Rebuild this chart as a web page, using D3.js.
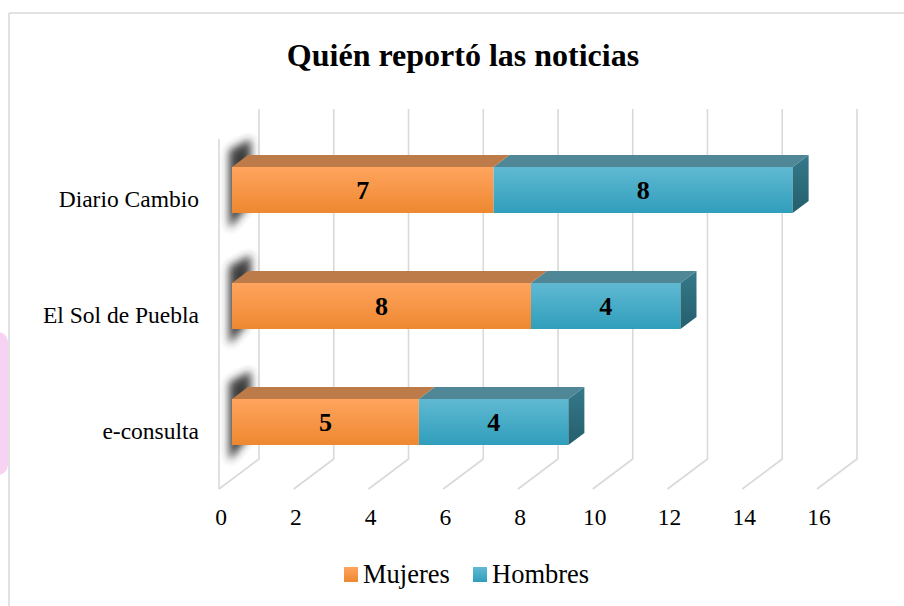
<!DOCTYPE html>
<html>
<head>
<meta charset="utf-8">
<script src="https://cdn.jsdelivr.net/npm/d3@7"></script>
<style>
  html, body { margin: 0; padding: 0; background: #fff; }
  svg { display: block; }
</style>
</head>
<body>
<svg id="chart" width="904" height="606"></svg>
<script>
// ---- data ----
const title = "Quién reportó las noticias";
const categories = ["Diario Cambio", "El Sol de Puebla", "e-consulta"];
const seriesNames = ["Mujeres", "Hombres"];
const mujeres = [7, 8, 5];
const hombres = [8, 4, 4];
const xTicks = [0, 2, 4, 6, 8, 10, 12, 14, 16];

// ---- setup ----
const svg = d3.select("#chart");
const W = 904, H = 606;
const font = "'Liberation Serif', 'Times New Roman', serif";

const defs = svg.append("defs");
function vGrad(id, c0, c1) {
  const g = defs.append("linearGradient").attr("id", id)
    .attr("x1", 0).attr("y1", 0).attr("x2", 0).attr("y2", 1);
  g.append("stop").attr("offset", "0%").attr("stop-color", c0);
  g.append("stop").attr("offset", "100%").attr("stop-color", c1);
}
vGrad("gOrange", "#FFA45E", "#EE8830");
vGrad("gBlue", "#60B9D2", "#309EBC");
vGrad("gBlueSide", "#35798A", "#245F6D");
vGrad("gOrangeSide", "#B8682A", "#9A5520");
const blur = defs.append("filter").attr("id", "blur")
  .attr("x", "-50%").attr("y", "-50%").attr("width", "200%").attr("height", "200%");
blur.append("feGaussianBlur").attr("stdDeviation", 4);

const faceFill = ["url(#gOrange)", "url(#gBlue)"];
const topFill = ["#BD7B4A", "#4F8796"];
const sideFill = ["url(#gOrangeSide)", "url(#gBlueSide)"];
const legendFill = faceFill;

// background decorations
svg.append("rect").attr("x", -20).attr("y", 332).attr("width", 28).attr("height", 143)
  .attr("rx", 10).attr("fill", "#F8D2F3");
svg.append("line").attr("x1", 9).attr("y1", 13).attr("x2", 9).attr("y2", H)
  .attr("stroke", "#D9D9D9").attr("stroke-width", 1.5);
svg.append("line").attr("x1", 9).attr("y1", 13).attr("x2", W).attr("y2", 13)
  .attr("stroke", "#D9D9D9").attr("stroke-width", 1.5);

// title
svg.append("text").attr("x", 463).attr("y", 66).attr("text-anchor", "middle")
  .attr("font-family", font).attr("font-weight", "bold").attr("font-size", 32)
  .attr("fill", "#000").text(title);

// ---- scales ----
const wallTop = 109, floorBack = 459;
const depthX = -40, depthY = 30;   // back -> front wall offset
const xBack = d3.scaleLinear().domain([0, 16]).range([259, 857]);
const xFront = d3.scaleLinear().domain([0, 16]).range([232, 830]);
const y = d3.scaleBand().domain(categories).range([109, 503])
  .paddingInner(0.6034).paddingOuter(0.5);
const barDX = 16, barDY = -12;

// ---- gridlines (back wall + floor) ----
const grid = svg.append("g").attr("stroke", "#D9D9D9").attr("stroke-width", 1.6).attr("fill", "none");
xTicks.forEach(v => {
  const xb = xBack(v);
  grid.append("path").attr("d",
    `M${xb},${wallTop} L${xb},${floorBack} L${xb + depthX},${floorBack + depthY}`);
});
// left wall front edge
grid.append("path").attr("d",
  `M${xBack(0) + depthX},${wallTop + depthY} L${xBack(0) + depthX},${floorBack + depthY}`);

// tick labels
svg.append("g").selectAll("text").data(xTicks).join("text")
  .attr("x", d => xBack(d) + depthX + 2)
  .attr("y", 525)
  .attr("text-anchor", "middle")
  .attr("font-family", font).attr("font-size", 23.5).attr("fill", "#000")
  .text(d => d);

// category labels
svg.append("g").selectAll("text").data(categories).join("text")
  .attr("x", 199)
  .attr("y", d => y(d) + y.bandwidth() / 2 + 17)
  .attr("text-anchor", "end")
  .attr("font-family", font).attr("font-size", 23.5).attr("fill", "#000")
  .text(d => d);

// ---- shadows on left wall ----
svg.append("g").selectAll("path").data(categories).join("path")
  .attr("filter", "url(#blur)")
  .attr("fill", "#2a2a2a").attr("opacity", 0.9)
  .attr("d", d => {
    const t = y(d);
    return `M231,${t - 18} L251,${t - 28} L251,${t + 36} L231,${t + 60} L229,${t + 60} L229,${t - 16} Z`;
  });

// ---- bars ----
const stacked = categories.map((c, i) => {
  const vals = [mujeres[i], hombres[i]];
  let acc = 0;
  return vals.map((v, s) => { const seg = { cat: c, s, x0: acc, x1: acc + v, v }; acc += v; return seg; });
});

const bars = svg.append("g");
stacked.forEach(segs => {
  const g = bars.append("g");
  const top = y(segs[0].cat), bot = top + y.bandwidth();
  segs.forEach((seg, k) => {
    const a = xFront(seg.x0), b = xFront(seg.x1);
    // top face
    g.append("path").attr("fill", topFill[seg.s])
      .attr("d", `M${a},${top} L${b},${top} L${b + barDX},${top + barDY} L${a + barDX},${top + barDY} Z`);
    // front face
    g.append("rect").attr("x", a).attr("y", top).attr("width", b - a).attr("height", bot - top)
      .attr("fill", faceFill[seg.s]);
    // right side on last segment
    if (k === segs.length - 1) {
      g.append("path").attr("fill", sideFill[seg.s])
        .attr("d", `M${b},${top} L${b + barDX},${top + barDY} L${b + barDX},${bot + barDY} L${b},${bot} Z`);
    }
    // value label
    g.append("text").attr("x", (a + b) / 2).attr("y", (top + bot) / 2 + 9)
      .attr("text-anchor", "middle")
      .attr("font-family", font).attr("font-weight", "bold").attr("font-size", 26)
      .attr("fill", "#000").text(seg.v);
  });
});

// ---- legend ----
const legendX = [344, 473];
const lg = svg.append("g");
seriesNames.forEach((n, i) => {
  lg.append("rect").attr("x", legendX[i]).attr("y", 567).attr("width", 14).attr("height", 15)
    .attr("fill", legendFill[i]);
  lg.append("text").attr("x", legendX[i] + 19).attr("y", 583)
    .attr("font-family", font).attr("font-size", 26.5).attr("fill", "#000").text(n);
});
</script>
</body>
</html>
